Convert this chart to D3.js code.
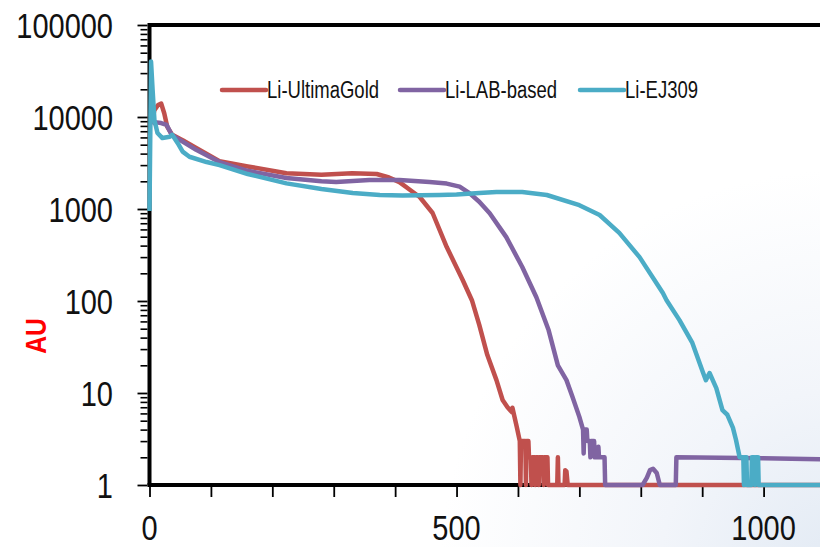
<!DOCTYPE html>
<html>
<head>
<meta charset="utf-8">
<script src="https://cdn.jsdelivr.net/npm/d3@7/dist/d3.min.js"></script>
<style>
  html, body { margin: 0; padding: 0; background: #fff; }
  #graph { width: 820px; height: 547px; overflow: hidden; }
  text { font-family: "Liberation Sans", Arial, sans-serif; }
</style>
</head>
<body>
<div id="graph"></div>
<script>
// Data ////////////////////////////////////////////////////////////////////////
const seriesNames = ["Li-UltimaGold", "Li-LAB-based", "Li-EJ309"];
const seriesColors = ["#C0504D", "#8064A2", "#4BACC6"];

const yTickValues = [1, 10, 100, 1000, 10000, 100000];
const xTickLabels = [0, 500, 1000];
const xMinorTicks = [0, 100, 200, 300, 400, 500, 600, 700, 800, 900, 1000, 1100];

// [channel, AU]
const ultimaGold = [
  [4, 9000], [8, 11900], [14, 13500], [19, 14000], [24, 11000], [29, 7800],
  [37, 6400], [54, 5600], [76, 4600], [114, 3300], [160, 2900], [223, 2450],
  [280, 2350], [330, 2450], [370, 2400], [390, 2200], [407, 1960], [425, 1600],
  [440, 1350], [461, 905], [484, 386], [510, 169], [525, 102], [537, 55],
  [550, 26], [565, 13.8], [575, 8.4], [583, 7], [590, 6.2], [591, 6.9],
  [598, 4.3], [603, 3], [604, 1], [605, 3], [612, 3], [613, 1], [614, 3],
  [617, 3], [618, 2], [621, 2], [622, 1], [623, 2], [627, 2], [628, 1],
  [629, 2], [633, 2], [634, 1], [635, 2], [641, 2], [642, 1], [643, 2],
  [648, 2], [649, 1], [664, 1], [665, 2], [666, 1], [676, 1], [677, 1.45],
  [679, 1.4], [681, 1], [1100, 1]
];

const labBased = [
  [4, 8500], [8, 8800], [19, 8600], [28, 8200], [36, 6400], [54, 5400],
  [76, 4400], [114, 3240], [160, 2600], [223, 2170], [280, 2000], [304, 1960],
  [358, 2070], [407, 2070], [456, 1960], [484, 1890], [505, 1750], [521, 1490],
  [537, 1200], [554, 900], [581, 495], [607, 234], [630, 110], [650, 48],
  [665, 20], [679, 13.8], [689, 9], [700, 5.5], [706, 4], [707, 2.2],
  [708, 4], [712, 4], [713, 3], [717, 3], [718, 2], [719, 3], [724, 3],
  [725, 2], [730, 2], [731, 2.6], [732, 2], [741, 2], [742, 1], [803, 1],
  [810, 1.2], [815, 1.45], [820, 1.5], [826, 1.35], [831, 1], [857, 1],
  [858, 2], [1000, 1.95], [1100, 1.9]
];

const ej309 = [
  [0, 950], [2.5, 40000], [5, 20000], [8, 9300], [13, 6700], [21, 5900],
  [33, 6100], [37, 6400], [46, 5200], [54, 4200], [65, 3700], [93, 3240],
  [114, 3000], [160, 2400], [223, 1900], [280, 1650], [331, 1490], [375, 1420],
  [412, 1400], [472, 1420], [500, 1440], [537, 1490], [565, 1530], [607, 1530],
  [647, 1420], [700, 1100], [733, 860], [765, 550], [798, 300], [836, 122],
  [842, 102], [863, 62], [884, 35], [901, 16.9], [906, 13.8], [912, 16.5],
  [923, 11.3], [933, 6.5], [941, 5.8], [950, 4.2], [955, 3.1], [961, 2],
  [967, 2], [968, 1], [969, 2], [972, 2], [973, 1], [980, 1], [981, 2],
  [985, 2], [986, 1], [987, 2], [991, 2], [992, 1], [1100, 1]
];

// Constants ///////////////////////////////////////////////////////////////////
const svgWidth = 820;
const svgHeight = 547;
const plot = { left: 149.5, right: 825, top: 25, bottom: 485 };
const textStretch = 1.2;

const x = d3.scaleLinear().domain([0, 1100]).range([plot.left, plot.right]);
const y = d3.scaleLog().domain([1, 100000]).range([plot.bottom, plot.top]);

// Containers //////////////////////////////////////////////////////////////////
const svg = d3
  .select("#graph")
  .append("svg")
  .attr("width", svgWidth)
  .attr("height", svgHeight);

const defs = svg.append("defs");
const bg = defs
  .append("radialGradient")
  .attr("id", "bg")
  .attr("gradientUnits", "userSpaceOnUse")
  .attr("cx", 840)
  .attr("cy", 570)
  .attr("r", 400);
bg.append("stop").attr("offset", "0%").attr("stop-color", "#e2eaf4");
bg.append("stop").attr("offset", "45%").attr("stop-color", "#f2f5fa");
bg.append("stop").attr("offset", "100%").attr("stop-color", "#ffffff");

svg.append("rect")
  .attr("width", svgWidth)
  .attr("height", svgHeight)
  .attr("fill", "url(#bg)");

// Axes ////////////////////////////////////////////////////////////////////////
const minorY = [];
yTickValues.slice(0, -1).forEach(d => {
  for (let k = 2; k <= 9; k++) minorY.push(d * k);
});

svg.append("g")
  .attr("transform", `translate(${plot.left - 2},0)`)
  .call(d3.axisLeft(y).tickValues(minorY).tickSize(7).tickSizeOuter(0).tickFormat(""))
  .call(g => g.select(".domain").remove())
  .call(g => g.selectAll("line").attr("stroke", "#000").attr("stroke-width", 1.6));

svg.append("g")
  .attr("transform", `translate(${plot.left - 2},0)`)
  .call(d3.axisLeft(y).tickValues(yTickValues).tickSize(10).tickSizeOuter(0).tickFormat(""))
  .call(g => g.select(".domain").remove())
  .call(g => g.selectAll("line").attr("stroke", "#000").attr("stroke-width", 1.8));

svg.append("g")
  .attr("transform", `translate(0,${plot.bottom + 2})`)
  .call(d3.axisBottom(x).tickValues(xMinorTicks).tickSize(10).tickSizeOuter(0).tickFormat(""))
  .call(g => g.select(".domain").remove())
  .call(g => g.selectAll("line").attr("stroke", "#000").attr("stroke-width", 1.8));

// tick labels, stretched vertically like the original
svg.append("g")
  .selectAll("text")
  .data(yTickValues)
  .join("text")
  .attr("transform", d => `translate(113,${y(d) + 13}) scale(1,${textStretch})`)
  .attr("text-anchor", "end")
  .style("font-size", "29px")
  .style("fill", "#111")
  .text(d => d3.format("d")(d));

svg.append("g")
  .selectAll("text")
  .data(xTickLabels)
  .join("text")
  .attr("transform", d => `translate(${x(d)},540) scale(1,${textStretch})`)
  .attr("text-anchor", "middle")
  .style("font-size", "29px")
  .style("fill", "#111")
  .text(d => d);

// axis frame: left, bottom and top
svg.append("path")
  .attr("d", `M${plot.left},${plot.bottom} L${plot.left},${plot.top} L${plot.right},${plot.top}`)
  .attr("fill", "none")
  .attr("stroke", "#000")
  .attr("stroke-width", 4);
svg.append("line")
  .attr("x1", plot.left - 2).attr("x2", plot.right)
  .attr("y1", plot.bottom).attr("y2", plot.bottom)
  .attr("stroke", "#000")
  .attr("stroke-width", 4);

// AU label
svg.append("text")
  .attr("transform", `translate(46,336) rotate(-90) scale(0.85,1)`)
  .attr("text-anchor", "middle")
  .style("font-size", "29px")
  .style("font-weight", "bold")
  .style("fill", "#FF0000")
  .text("AU");

// Lines ///////////////////////////////////////////////////////////////////////
const line = d3.line()
  .x(d => x(d[0]))
  .y(d => y(d[1]));

svg.append("g")
  .selectAll("path")
  .data([ultimaGold, labBased, ej309])
  .join("path")
  .attr("d", line)
  .attr("fill", "none")
  .attr("stroke", (d, i) => seriesColors[i])
  .attr("stroke-width", 4.5)
  .attr("stroke-linejoin", "round");

// Legend //////////////////////////////////////////////////////////////////////
const legendX = [222, 400, 580];
const legend = svg.append("g")
  .selectAll("g")
  .data(seriesNames)
  .join("g")
  .attr("transform", (d, i) => `translate(${legendX[i]},90)`);

legend.append("line")
  .attr("x1", 0).attr("x2", 44)
  .attr("stroke", (d, i) => seriesColors[i])
  .attr("stroke-width", 4.5)
  .attr("stroke-linecap", "round");

legend.append("text")
  .attr("transform", `translate(45,7.5) scale(1,1.25)`)
  .style("font-size", "18.5px")
  .style("fill", "#111")
  .text(d => d);
</script>
</body>
</html>
